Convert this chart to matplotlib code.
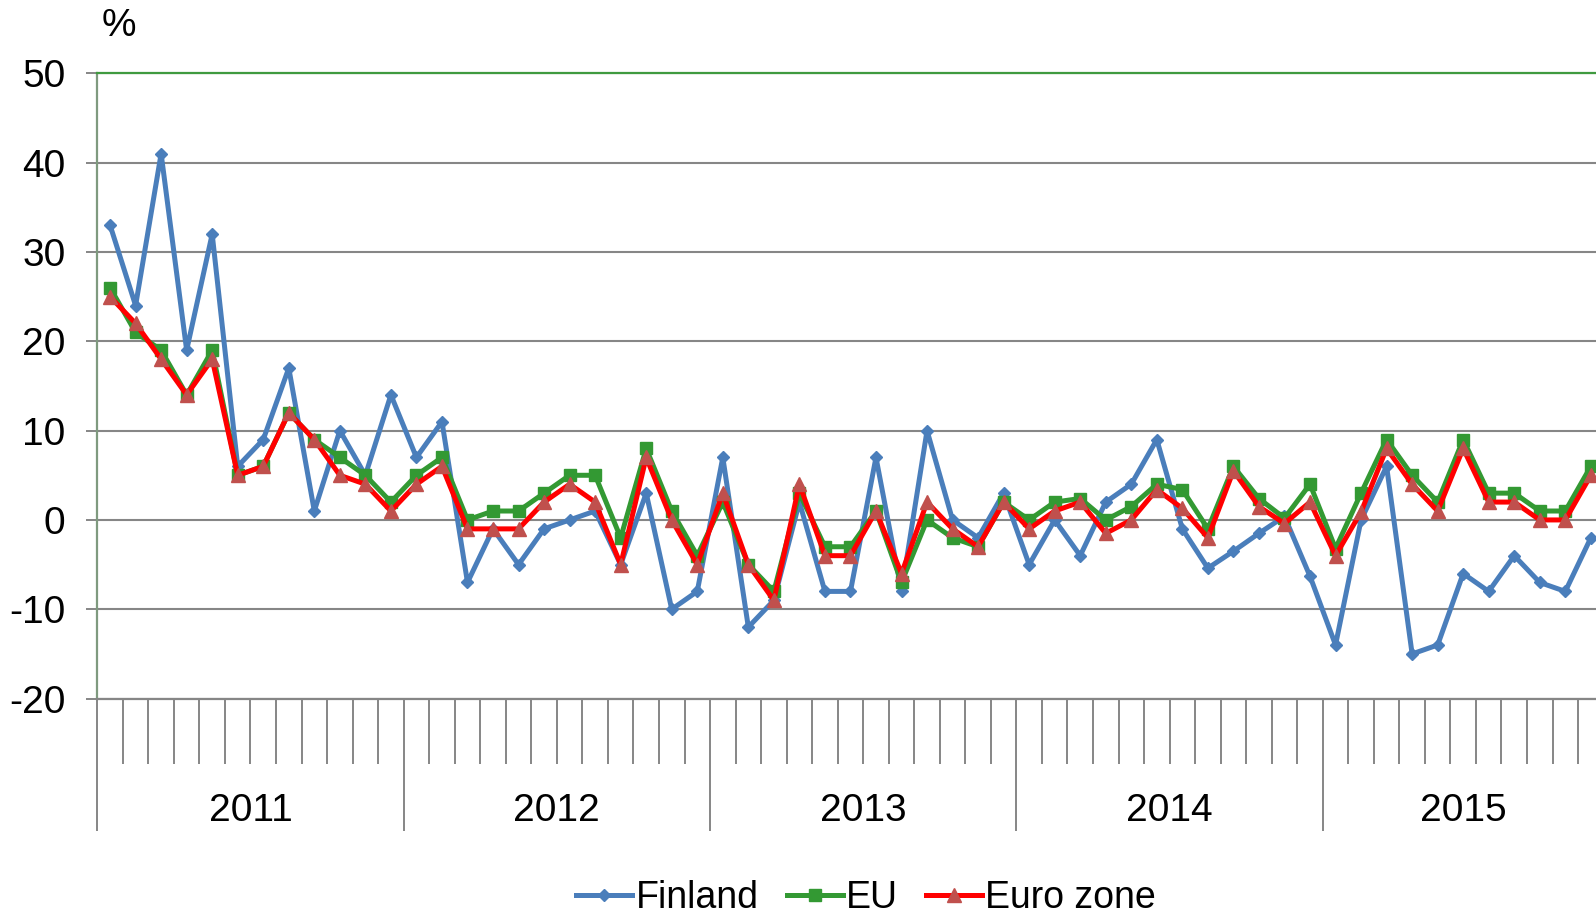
#!/usr/bin/env python3
"""
Monthly change (%) 2011-2015: Finland vs EU vs Euro zone.
Excel-style category axis with month ticks and year groups.
"""

import matplotlib
matplotlib.use("Agg")
import matplotlib.pyplot as plt
import numpy as np

plt.rcParams["font.family"] = ["Liberation Sans", "DejaVu Sans"]
plt.rcParams["axes.unicode_minus"] = False

years = ["2011", "2012", "2013", "2014", "2015"]
months_per_year = [12, 12, 12, 12, 11]

finland = [
    33, 24, 41, 19, 32, 6, 9, 17, 1, 10, 5, 14,
    7, 11, -7, -1, -5, -1, 0, 1, -5, 3, -10, -8,
    7, -12, -9, 2, -8, -8, 7, -8, 10, 0, -2, 3,
    -5, 0, -4, 2, 4, 9, -1, -5.4, -3.5, -1.5, 0.4, -6.3,
    -14, 0, 6, -15, -14, -6, -8, -4, -7, -8, -2,
]
eu = [
    26, 21, 19, 14, 19, 5, 6, 12, 9, 7, 5, 2,
    5, 7, 0, 1, 1, 3, 5, 5, -2, 8, 1, -4,
    2, -5, -8, 3, -3, -3, 1, -7, 0, -2, -3, 2,
    0, 2, 2.4, 0, 1.5, 4, 3.4, -1, 6, 2.4, 0.2, 4,
    -3.2, 3, 9, 5, 2, 9, 3, 3, 1, 1, 6,
]
euro_zone = [
    25, 22, 18, 14, 18, 5, 6, 12, 9, 5, 4, 1,
    4, 6, -1, -1, -1, 2, 4, 2, -5, 7, 0, -5,
    3, -5, -9, 4, -4, -4, 1, -6, 2, -1, -3, 2,
    -1, 1, 2, -1.5, 0, 3.4, 1.3, -2, 5.5, 1.5, -0.4, 2,
    -4, 0.9, 8, 4, 1, 8, 2, 2, 0, 0, 5,
]

W, H = 1596, 919


def main():
    fig = plt.figure(figsize=(W / 100, H / 100), dpi=100)

    # plot area in pixels: x 97.3 -> 1603.6 (runs past the right edge), y 73.3 -> 698.6
    left, right, top, bottom = 97.3, 1603.6, 73.3, 698.6
    ax = fig.add_axes([left / W, 1 - bottom / H, (right - left) / W, (bottom - top) / H])

    n = sum(months_per_year)
    x = np.arange(n) + 0.5

    ax.plot(x, finland, color="#4a7ebb", lw=3.6, marker="D", ms=6.5,
            label="Finland", zorder=3)
    ax.plot(x, eu, color="#339933", lw=3.6, marker="s", ms=8.5,
            label="EU", zorder=4)
    ax.plot(x, euro_zone, color="#ff0000", lw=3.6, marker="^", ms=10,
            mfc="#c0504d", mec="#c0504d", label="Euro zone", zorder=5)

    ax.set_xlim(0, n)
    ax.set_ylim(-20, 50)

    # y axis
    ax.set_yticks(range(-20, 51, 10))
    ax.tick_params(axis="y", length=8, width=1.4, color="#868686",
                   pad=15, labelsize=28)
    ax.yaxis.grid(True, color="#868686", lw=1.5, zorder=0)
    ax.set_axisbelow(True)

    # x axis: month ticks + year group ticks
    bounds = np.cumsum([0] + months_per_year)
    ax.set_xticks(bounds[:-1])
    ax.set_xticklabels([])
    ax.set_xticks(np.arange(n + 1), minor=True)
    ax.tick_params(axis="x", which="major", length=95, width=1.4, color="#868686")
    ax.tick_params(axis="x", which="minor", length=47, width=1.4, color="#868686")

    for i, yr in enumerate(years):
        mid = (bounds[i] + bounds[i + 1]) / 2
        ax.text(mid, -0.18, yr, transform=ax.get_xaxis_transform(),
                ha="center", va="center", fontsize=28)

    # spines
    ax.spines["right"].set_visible(False)
    ax.spines["top"].set_color("#3f9a3f")
    ax.spines["top"].set_linewidth(1.6)
    ax.spines["left"].set_color("#7f9a7f")
    ax.spines["left"].set_linewidth(1.6)
    ax.spines["bottom"].set_color("#868686")
    ax.spines["bottom"].set_linewidth(1.6)

    fig.text(119 / W, 1 - 26 / H, "%", ha="center", va="center", fontsize=28)

    fig.legend(loc="center", bbox_to_anchor=(866 / W, 1 - 898 / H), ncol=3,
               frameon=False, fontsize=27, handlelength=1.5, handletextpad=0.08,
               columnspacing=0.75, borderpad=0)

    fig.savefig("out.png", dpi=100)


if __name__ == "__main__":
    main()
